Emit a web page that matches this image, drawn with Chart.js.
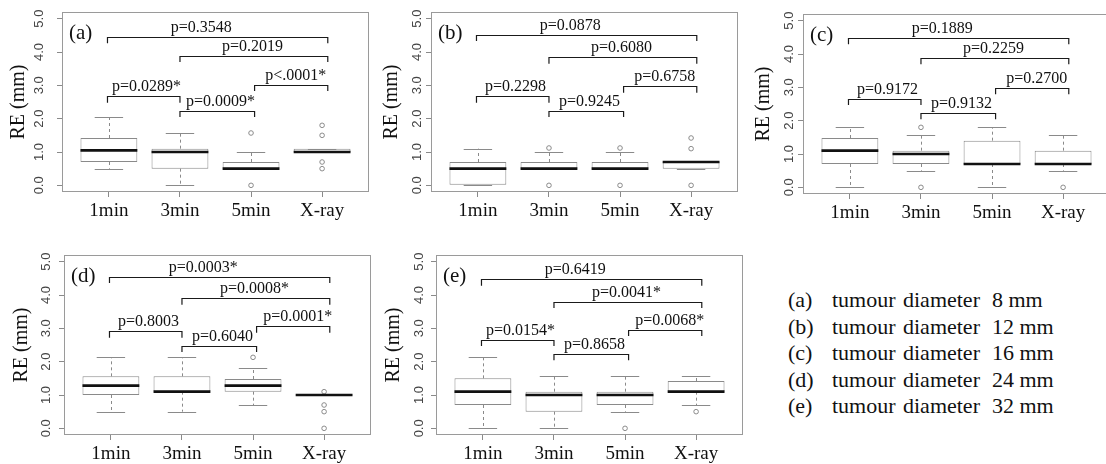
<!DOCTYPE html>
<html>
<head>
<meta charset="utf-8">
<script src="https://cdn.jsdelivr.net/npm/chart.js@4.4.0/dist/chart.umd.min.js"></script>
<style>
    html, body { margin: 0; padding: 0; background: #fff; }
    body { position: relative; width: 1106px; height: 464px; overflow: hidden; }
    .panel { position: absolute; width: 374px; height: 232px; }
    .key { position: absolute; left: 788px; top: 287px; font-family: "Liberation Serif", "Times New Roman", serif; font-size: 22px; color: #111; }
    .key .row { position: relative; height: 26.6px; line-height: 26.6px; white-space: nowrap; }
    .key .row span { position: absolute; top: 0; }
</style>
</head>
<body>
<div class="panel" style="left:0px;top:0px"><canvas id="chartA" width="374" height="232"></canvas></div>
<div class="panel" style="left:369px;top:0px"><canvas id="chartB" width="374" height="232"></canvas></div>
<div class="panel" style="left:741px;top:2px"><canvas id="chartC" width="374" height="232"></canvas></div>
<div class="panel" style="left:2px;top:243px"><canvas id="chartD" width="374" height="232"></canvas></div>
<div class="panel" style="left:374px;top:243px"><canvas id="chartE" width="374" height="232"></canvas></div>
<div class="key" id="key"></div>

<script>
(function () {
    'use strict';

    // ---- data ----
    const categories = ['1min', '3min', '5min', 'X-ray'];
    const yTicks = [0, 1, 2, 3, 4, 5];
    const panelNames = ['(a)', '(b)', '(c)', '(d)', '(e)'];
    const tumourDiameters = [8, 12, 16, 24, 32];

    // box statistics per panel, one value per category
    const whiskerLowA = [0.5, 0.0, 0.5, 1.0];
    const q1A = [0.7, 0.5, 0.5, 1.0];
    const medianA = [1.05, 1.0, 0.5, 1.0];
    const q3A = [1.42, 1.1, 0.7, 1.1];
    const whiskerHighA = [2.05, 1.57, 1.0, 1.1];
    const outliersA = [[], [], [1.57, 0.0], [1.8, 1.5, 0.7, 0.5]];

    const whiskerLowB = [0.0, 0.5, 0.5, 0.5];
    const q1B = [0.0, 0.5, 0.5, 0.5];
    const medianB = [0.5, 0.5, 0.5, 0.7];
    const q3B = [0.7, 0.7, 0.7, 0.7];
    const whiskerHighB = [1.1, 1.0, 1.0, 0.7];
    const outliersB = [[], [1.12, 0.0], [1.12, 0.0], [1.42, 1.1, 0.0]];

    const whiskerLowC = [0.0, 0.5, 0.0, 0.5];
    const q1C = [0.7, 0.7, 0.7, 0.7];
    const medianC = [1.1, 1.0, 0.7, 0.7];
    const q3C = [1.48, 1.1, 1.4, 1.1];
    const whiskerHighC = [1.8, 1.56, 1.8, 1.56];
    const outliersC = [[], [1.8, 0.0], [], [0.0]];

    const whiskerLowD = [0.5, 0.5, 0.7, 1.0];
    const q1D = [1.0, 1.1, 1.1, 1.0];
    const medianD = [1.28, 1.1, 1.28, 1.0];
    const q3D = [1.56, 1.56, 1.48, 1.0];
    const whiskerHighD = [2.13, 2.13, 1.81, 1.0];
    const outliersD = [[], [], [2.13], [1.1, 0.7, 0.5, 0.0]];

    const whiskerLowE = [0.0, 0.0, 0.5, 0.7];
    const q1E = [0.7, 0.5, 0.7, 1.1];
    const medianE = [1.1, 1.0, 1.0, 1.1];
    const q3E = [1.5, 1.1, 1.1, 1.42];
    const whiskerHighE = [2.13, 1.58, 1.58, 1.58];
    const outliersE = [[], [], [0.0], [0.5]];

    // comparison brackets: (1min,X-ray), (3min,X-ray), (1min,3min), (3min,5min), (5min,X-ray)
    const bracketPairs = [[0, 3], [1, 3], [0, 1], [1, 2], [2, 3]];
    const bracketAnchors = [0.98, 2.0, 3.05, 4.08];
    const bracketLabelX = [2.3, 3.02, 1.53, 2.57, 3.63];

    const bracketHeightA = [4.45, 3.89, 2.67, 2.24, 3.02];
    const bracketHeightB = [4.52, 3.84, 2.67, 2.24, 2.97];
    const bracketHeightC = [4.48, 3.88, 2.66, 2.23, 2.98];
    const bracketHeightD = [4.55, 3.90, 2.91, 2.48, 3.06];
    const bracketHeightE = [4.47, 3.80, 2.66, 2.23, 2.96];

    const pValuesA = ['p=0.3548', 'p=0.2019', 'p=0.0289*', 'p=0.0009*', 'p<.0001*'];
    const pValuesB = ['p=0.0878', 'p=0.6080', 'p=0.2298', 'p=0.9245', 'p=0.6758'];
    const pValuesC = ['p=0.1889', 'p=0.2259', 'p=0.9172', 'p=0.9132', 'p=0.2700'];
    const pValuesD = ['p=0.0003*', 'p=0.0008*', 'p=0.8003', 'p=0.6040', 'p=0.0001*'];
    const pValuesE = ['p=0.6419', 'p=0.0041*', 'p=0.0154*', 'p=0.8658', 'p=0.0068*'];

    const panels = [
        { id: 'chartA', lo: whiskerLowA, q1: q1A, med: medianA, q3: q3A, hi: whiskerHighA, out: outliersA, br: bracketHeightA, pv: pValuesA, tickPad: 9, titlePad: 7 },
        { id: 'chartB', lo: whiskerLowB, q1: q1B, med: medianB, q3: q3B, hi: whiskerHighB, out: outliersB, br: bracketHeightB, pv: pValuesB, tickPad: 0, titlePad: 10.5 },
        { id: 'chartC', lo: whiskerLowC, q1: q1C, med: medianC, q3: q3C, hi: whiskerHighC, out: outliersC, br: bracketHeightC, pv: pValuesC, tickPad: 0, titlePad: 11 },
        { id: 'chartD', lo: whiskerLowD, q1: q1D, med: medianD, q3: q3D, hi: whiskerHighD, out: outliersD, br: bracketHeightD, pv: pValuesD, tickPad: 4, titlePad: 7.5 },
        { id: 'chartE', lo: whiskerLowE, q1: q1E, med: medianE, q3: q3E, hi: whiskerHighE, out: outliersE, br: bracketHeightE, pv: pValuesE, tickPad: 3, titlePad: 8 }
    ];

    const SERIF = '"Liberation Serif", "Times New Roman", serif';
    const SANS = '"Liberation Sans", Arial, sans-serif';
    const GREY = '#8a8a8a';

    // whiskers, caps, medians, brackets, frame and panel tag
    const boxExtras = {
        id: 'boxExtras',
        afterDatasetsDraw(chart, args, opts) {
            const p = opts.panel;
            const xs = chart.scales.x;
            const ys = chart.scales.y;
            const ctx = chart.ctx;
            const crisp = v => Math.round(v) + 0.5;

            ctx.save();
            ctx.lineWidth = 1;
            ctx.strokeStyle = GREY;
            p.med.forEach((m, i) => {
                const cx = xs.getPixelForValue(i + 1);
                const halfCap = xs.getPixelForValue(i + 1.2) - cx;
                const vx = crisp(cx);

                ctx.setLineDash([3, 3]);
                ctx.beginPath();
                if (p.hi[i] > p.q3[i]) {
                    ctx.moveTo(vx, ys.getPixelForValue(p.q3[i]));
                    ctx.lineTo(vx, ys.getPixelForValue(p.hi[i]));
                }
                if (p.lo[i] < p.q1[i]) {
                    ctx.moveTo(vx, ys.getPixelForValue(p.q1[i]));
                    ctx.lineTo(vx, ys.getPixelForValue(p.lo[i]));
                }
                ctx.stroke();

                ctx.setLineDash([]);
                ctx.beginPath();
                [p.hi[i], p.lo[i]].forEach(v => {
                    const py = crisp(ys.getPixelForValue(v));
                    ctx.moveTo(cx - halfCap, py);
                    ctx.lineTo(cx + halfCap, py);
                });
                ctx.stroke();
            });

            ctx.strokeStyle = '#111';
            ctx.lineWidth = 2.6;
            p.med.forEach((m, i) => {
                const cx = xs.getPixelForValue(i + 1);
                const halfBox = xs.getPixelForValue(i + 1.4) - cx;
                const py = ys.getPixelForValue(m);
                ctx.beginPath();
                ctx.moveTo(cx - halfBox, py);
                ctx.lineTo(cx + halfBox, py);
                ctx.stroke();
            });

            // significance brackets
            ctx.strokeStyle = '#1a1a1a';
            ctx.lineWidth = 1.2;
            ctx.fillStyle = '#111';
            ctx.font = '16px ' + SERIF;
            ctx.textAlign = 'center';
            ctx.textBaseline = 'alphabetic';
            bracketPairs.forEach((pair, k) => {
                const x1 = xs.getPixelForValue(bracketAnchors[pair[0]]);
                const x2 = xs.getPixelForValue(bracketAnchors[pair[1]]);
                const top = crisp(ys.getPixelForValue(p.br[k]));
                const leg = ys.getPixelForValue(p.br[k] - 0.19);
                ctx.beginPath();
                ctx.moveTo(x1, leg);
                ctx.lineTo(x1, top);
                ctx.lineTo(x2, top);
                ctx.lineTo(x2, leg);
                ctx.stroke();
                ctx.fillText(p.pv[k], xs.getPixelForValue(bracketLabelX[k]), top - 6);
            });

            ctx.restore();
        },
        afterDraw(chart, args, opts) {
            const a = chart.chartArea;
            const ctx = chart.ctx;
            ctx.save();
            ctx.strokeStyle = '#9a9a9a';
            ctx.lineWidth = 1;
            ctx.strokeRect(a.left + 0.5, a.top + 0.5, a.right - a.left - 1, a.bottom - a.top - 1);
            ctx.fillStyle = '#111';
            ctx.font = '21px ' + SERIF;
            ctx.textAlign = 'left';
            ctx.textBaseline = 'alphabetic';
            ctx.fillText(opts.name, a.left + 7, a.top + 27);
            ctx.restore();
        }
    };

    function buildChart(p, index) {
        const el = document.getElementById(p.id);
        const outlierPoints = [];
        p.out.forEach((list, i) => list.forEach(v => outlierPoints.push({ x: i + 1, y: v })));

        new Chart(el, {
            type: 'bar',
            data: {
                datasets: [
                    {
                        type: 'scatter',
                        data: outlierPoints,
                        pointRadius: 2.3,
                        pointBorderWidth: 1,
                        pointBorderColor: GREY,
                        pointBackgroundColor: 'rgba(0,0,0,0)'
                    },
                    {
                        type: 'bar',
                        data: p.q1.map((v, i) => ({ x: i + 1, y: [v, p.q3[i]] })),
                        backgroundColor: '#fff',
                        borderColor: GREY,
                        borderWidth: 1,
                        borderSkipped: false,
                        categoryPercentage: 1,
                        barPercentage: 0.8
                    }
                ]
            },
            options: {
                responsive: false,
                animation: false,
                events: [],
                devicePixelRatio: 1,
                layout: { padding: { top: 12, right: 2, left: 0, bottom: 0 } },
                plugins: {
                    legend: { display: false },
                    tooltip: { enabled: false },
                    boxExtras: { panel: p, name: panelNames[index] }
                },
                scales: {
                    x: {
                        type: 'linear',
                        bounds: 'data',
                        offset: false,
                        min: 0.34,
                        max: 4.66,
                        afterBuildTicks: s => { s.ticks = categories.map((c, i) => ({ value: i + 1 })); },
                        afterFit: s => { s.height = 40; s.paddingLeft = 0; s.paddingRight = 0; },
                        grid: { offset: false, drawOnChartArea: false, drawTicks: true, tickLength: 5, color: GREY },
                        border: { display: false },
                        ticks: {
                            autoSkip: false,
                            maxRotation: 0,
                            padding: 3,
                            color: '#111',
                            font: { family: SERIF, size: 19 },
                            callback: v => categories[v - 1]
                        }
                    },
                    y: {
                        type: 'linear',
                        bounds: 'data',
                        min: -0.2,
                        max: 5.2,
                        afterBuildTicks: s => { s.ticks = yTicks.map(v => ({ value: v })); },
                        afterFit: s => { s.width = 62; s.paddingTop = 0; s.paddingBottom = 0; },
                        grid: { drawOnChartArea: false, drawTicks: true, tickLength: 5, color: GREY },
                        border: { display: false },
                        ticks: {
                            autoSkip: false,
                            minRotation: 90,
                            maxRotation: 90,
                            crossAlign: 'center',
                            padding: p.tickPad,
                            color: '#444',
                            font: { family: SANS, size: 13 },
                            callback: v => v.toFixed(1)
                        },
                        title: {
                            display: true,
                            text: 'RE (mm)',
                            color: '#111',
                            font: { family: SERIF, size: 20 },
                            padding: { top: p.titlePad, bottom: 0 }
                        }
                    }
                }
            },
            plugins: [boxExtras]
        });
    }

    function buildKey() {
        const key = document.getElementById('key');
        panelNames.forEach((name, i) => {
            const row = document.createElement('div');
            row.className = 'row';
            const parts = [[name, 0], ['tumour', 44], ['diameter', 115], [tumourDiameters[i] + ' mm', 204]];
            parts.forEach(([text, left]) => {
                const span = document.createElement('span');
                span.textContent = text;
                span.style.left = left + 'px';
                row.appendChild(span);
            });
            key.appendChild(row);
        });
    }

    panels.forEach(buildChart);
    buildKey();
})();
</script>
</body>
</html>
